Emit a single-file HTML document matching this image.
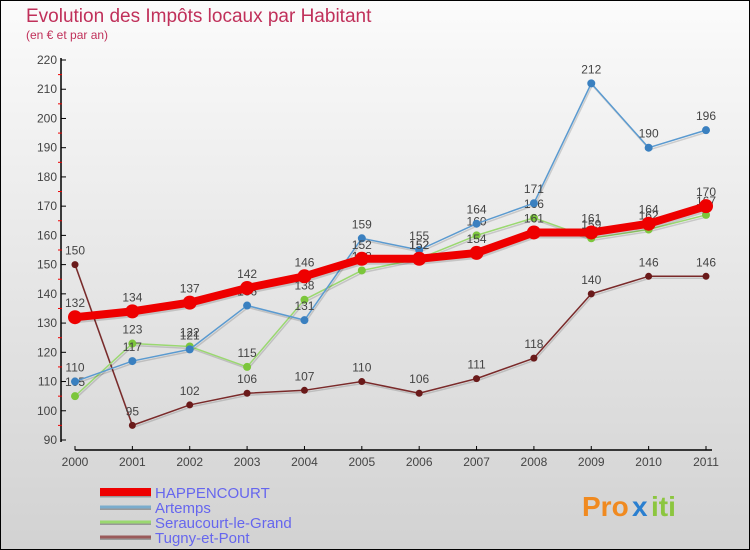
<!DOCTYPE html>
<html><head><meta charset="utf-8"><style>
body{margin:0;width:750px;height:550px;overflow:hidden;font-family:"Liberation Sans",sans-serif;}
svg{display:block}
</style></head><body>
<svg id="chart" width="750" height="550" xmlns="http://www.w3.org/2000/svg">
<defs><linearGradient id="bg" x1="0" y1="0" x2="0" y2="1"><stop offset="0" stop-color="#fbfbfb"/><stop offset="1" stop-color="#d2d2d2"/></linearGradient></defs>
<rect x="0.5" y="0.5" width="749" height="549" fill="url(#bg)" stroke="#000"/>
<text x="26" y="22" font-size="19" fill="#c0305a">Evolution des Impôts locaux par Habitant</text>
<text x="26" y="39" font-size="12" fill="#c0305a">(en € et par an)</text>
<g id="axes"></g><g id="series"></g><g id="legend"></g>
<g font-size="28" font-weight="bold">
<text x="582" y="516" fill="#f08a20">Pro</text><text x="632" y="516" fill="#2a7fd0">x</text><text x="651" y="516" fill="#8cc63f">iti</text>
</g>
</svg>
<script>
const years=[2000,2001,2002,2003,2004,2005,2006,2007,2008,2009,2010,2011];
const yTicks=[90,100,110,120,130,140,150,160,170,180,190,200,210,220];
const happencourt=[132,134,137,142,146,152,152,154,161,161,164,170];
const artemps=[110,117,121,136,131,159,155,164,171,212,190,196];
const seraucourt=[105,123,122,115,138,148,152,160,166,159,162,167];
const tugny=[150,95,102,106,107,110,106,111,118,140,146,146];
const seriesNames=["HAPPENCOURT","Artemps","Seraucourt-le-Grand","Tugny-et-Pont"];
const NS="http://www.w3.org/2000/svg";
const xS=i=>75+i*(706-75)/11;
const yS=v=>440-(v-90)*(380/130);
function mk(tag,attrs,parent,txt){const e=document.createElementNS(NS,tag);for(const k in attrs)e.setAttribute(k,attrs[k]);if(txt!==undefined)e.textContent=txt;parent.appendChild(e);return e;}
const ax=document.getElementById('axes');
let yl=mk('line',{x1:61,y1:58,x2:61,y2:442,stroke:'#000','stroke-width':1.5},ax);


yTicks.forEach(t=>{
  mk('line',{x1:61,y1:yS(t),x2:66,y2:yS(t),stroke:'#000'},ax);
  if(t<220)mk('line',{x1:58,y1:yS(t+5),x2:62,y2:yS(t+5),stroke:'#e00'},ax);
  let l=mk('text',{x:57,y:yS(t)+4,'font-size':12,fill:'#444','text-anchor':'end'},ax,t);
  
  
});
let xl=mk('line',{x1:75,y1:450,x2:712,y2:450,stroke:'#000','stroke-width':1.5},ax);


years.forEach((y,i)=>{
  mk('line',{x1:xS(i),y1:446,x2:xS(i),y2:450,stroke:'#000'},ax);
  let l=mk('text',{x:xS(i),y:466,'font-size':12,fill:'#444','text-anchor':'middle'},ax,y);
  
  
});
const sg=document.getElementById('series');
function draw(data,name,color,dot,width,r){
  const g=mk('g',{},sg);
  
  
  const pts=data.map((v,i)=>xS(i)+','+yS(v)).join(' ');
  mk('polyline',{points:pts,fill:'none',stroke:'rgba(0,0,0,0.15)','stroke-width':width,transform:'translate(1,2)'},g);
  mk('polyline',{points:pts,fill:'none',stroke:color,'stroke-width':width,'stroke-linejoin':'round'},g);
  data.forEach((v,i)=>{
    const c=mk('circle',{cx:xS(i),cy:yS(v),r:r,fill:dot},g);
    
    
    const t=mk('text',{x:xS(i),y:yS(v)-10,'font-size':12,fill:'#444','text-anchor':'middle'},g,v);
    
    
  });
}
draw(tugny,'tugny-et-pont','#7a2a2a','#6a1a1a',1.5,3.5);
draw(seraucourt,'seraucourt-le-grand','#9ad870','#7cc63c',1.5,4);
draw(artemps,'artemps','#5a9ad0','#3a80c0',1.5,4);
draw(happencourt,'happencourt','#ee0000','#ee0000',8,7);
const lg=document.getElementById('legend');
const lcol=['#ee0000','#7aaccc','#9ad870','#9a5a5a'];
const lw=[8,3,3,3];
seriesNames.forEach((n,i)=>{
  const y=492+i*15;
  const g=mk('g',{},lg);
  
  
  mk('line',{x1:100,y1:y+1.5,x2:151,y2:y+1.5,stroke:'#999','stroke-width':lw[i]},g);
  mk('line',{x1:100,y1:y,x2:151,y2:y,stroke:lcol[i],'stroke-width':lw[i]},g);
  mk('text',{x:155,y:y+6,'font-size':15,fill:'#6666ee'},g,n);
});
</script>
</body></html>
